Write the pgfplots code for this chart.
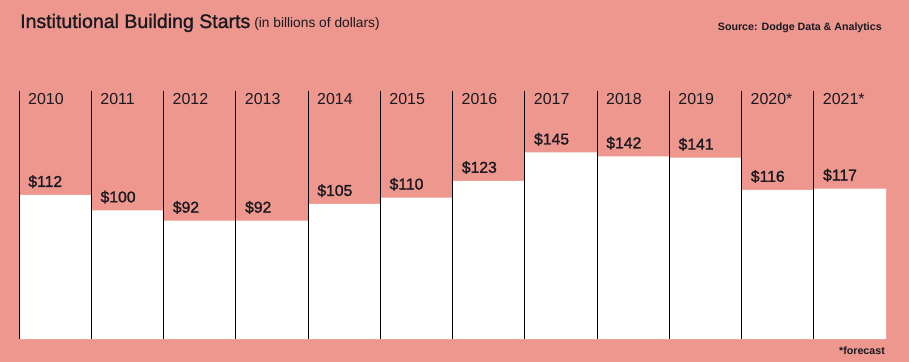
\documentclass[border=0pt]{standalone}
\usepackage{fontspec}
\setmainfont{Liberation Sans}
\newfontfamily\medfont[FakeBold=1.3]{Liberation Sans}
\usepackage{pgfplots}
\usepackage{pgfplotstable}
\pgfplotsset{compat=1.18}
\definecolor{bg}{RGB}{238,151,142}
\definecolor{ink}{RGB}{25,25,32}
\pgfplotstableread{
x val
0 112
1 100
2 92
3 92
4 105
5 110
6 123
7 145
8 142
9 141
10 116
11 117
}\data
\begin{document}
\begin{tikzpicture}
\useasboundingbox (0,0) rectangle (909bp,362bp);
\fill[bg] (0,0) rectangle (909bp,362bp);
\begin{axis}[
  at={(19bp,23bp)}, anchor=south west,
  width=867bp, height=248bp, scale only axis,
  xmin=-0.5, xmax=11.5, ymin=0, ymax=192.8,
  ybar, bar width=1,
  axis on top, clip=false,
  axis line style={draw=none},
  major tick length=0pt,
  ytick=\empty,
  xtick={-0.5,0.5,1.5,2.5,3.5,4.5,5.5,6.5,7.5,8.5,9.5,10.5},
  xticklabels={2010,2011,2012,2013,2014,2015,2016,2017,2018,2019,2020*,2021*},
  xticklabel pos=upper,
  xticklabel style={anchor=base west, inner sep=0pt, xshift=9bp, yshift=-14bp, text=ink, font=\fontsize{16}{16}\selectfont},
  xmajorgrids, grid style={black, line width=1bp},
  /pgf/number format/assume math mode=true,
  nodes near coords={\$\pgfmathprintnumber[assume math mode=true]{\pgfplotspointmeta}},
  every node near coord/.append style={anchor=base west, inner sep=0pt, xshift=-27bp, yshift=8bp, text=ink, font=\medfont\fontsize{15.8}{16}\selectfont},
]
\addplot[fill=white, draw=none] table[x=x, y=val] {\data};
\end{axis}
\node[anchor=base west, inner sep=0pt, text=ink] at (20bp,334bp) {{\medfont\fontsize{19.6}{20}\selectfont Institutional Building Starts}\hspace{4bp}{\fontsize{13.8}{14}\selectfont (in billions of dollars)}};
\node[anchor=base east, inner sep=0pt, text=ink] at (882bp,331bp) {\bfseries\fontsize{10.7}{11}\selectfont Source: Dodge Data \& Analytics};
\node[anchor=base east, inner sep=0pt, text=ink] at (885bp,8bp) {\bfseries\fontsize{10.7}{11}\selectfont *forecast};
\end{tikzpicture}
\end{document}
